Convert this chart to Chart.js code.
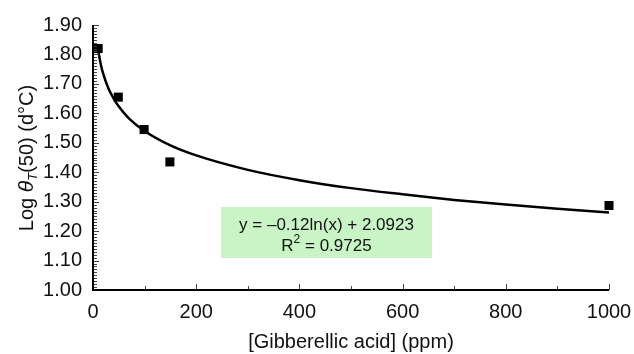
<!DOCTYPE html>
<html>
<head>
<meta charset="utf-8">
<script src="https://cdn.jsdelivr.net/npm/chart.js@4/dist/chart.umd.min.js"></script>
<style>
  html, body { margin: 0; padding: 0; background: #fff; }
  #wrap { width: 634px; height: 354px; }
</style>
</head>
<body>
<div id="wrap"><canvas id="chart" width="634" height="354"></canvas></div>
<script>
// measured points
const pointX = [10, 49, 99, 149, 1000];
const pointY = [1.82, 1.655, 1.545, 1.435, 1.287];

// fitted curve
const curveX = [10, 15, 20, 30, 40, 50, 70, 100, 150, 200, 300, 400, 500, 600, 700, 800, 900, 1000];
const curveY = [1.815, 1.767, 1.733, 1.684, 1.650, 1.623, 1.582, 1.540, 1.491, 1.457, 1.408, 1.373, 1.346, 1.325, 1.306, 1.290, 1.276, 1.263];

const xTicks = [0, 200, 400, 600, 800, 1000];
const yTicks = [1.00, 1.10, 1.20, 1.30, 1.40, 1.50, 1.60, 1.70, 1.80, 1.90];

const fitLines = ["y = \u20130.12ln(x) + 2.0923", "R", "2", " = 0.9725"];

const FONT = "'Liberation Sans', Arial, Helvetica, sans-serif";

const pts = pointX.map((x, i) => ({x: x, y: pointY[i]}));
const curve = curveX.map((x, i) => ({x: x, y: curveY[i]}));

// axes with inward ticks, titles and the green equation box
const decorations = {
    id: "decorations",
    beforeDatasetsDraw(chart) {
        const ctx = chart.ctx;
        // equation box
        const bx0 = 221, bx1 = 432, by0 = 207, by1 = 258;
        ctx.save();
        ctx.fillStyle = "#c9f5c6";
        ctx.fillRect(bx0, by0, bx1 - bx0, by1 - by0);
        ctx.fillStyle = "#111";
        ctx.font = "17px " + FONT;
        ctx.textAlign = "center";
        ctx.textBaseline = "alphabetic";
        const cx = (bx0 + bx1) / 2;
        ctx.fillText(fitLines[0], cx, 230);
        // R^2 line
        ctx.textAlign = "left";
        const wR = ctx.measureText(fitLines[1]).width;
        const wRest = ctx.measureText(fitLines[3]).width;
        ctx.font = "12px " + FONT;
        const w2 = ctx.measureText(fitLines[2]).width;
        let sx = cx - (wR + w2 + wRest) / 2;
        ctx.font = "17px " + FONT;
        ctx.fillText(fitLines[1], sx, 251);
        ctx.font = "12px " + FONT;
        ctx.fillText(fitLines[2], sx + wR, 243);
        ctx.font = "17px " + FONT;
        ctx.fillText(fitLines[3], sx + wR + w2, 251);
        ctx.restore();
    },
    afterDraw(chart) {
        const ctx = chart.ctx;
        const xs = chart.scales.x, ys = chart.scales.y;
        const left = xs.getPixelForValue(0);
        const bottom = ys.getPixelForValue(1.0);
        const top = ys.getPixelForValue(1.9);
        const right = xs.getPixelForValue(1000);
        ctx.save();
        // y minor/major ticks
        ctx.strokeStyle = "#444";
        ctx.lineWidth = 1;
        for (let i = 0; i <= 90; i++) {
            const y = Math.round(ys.getPixelForValue(1 + i / 100)) + 0.5;
            const len = i % 10 === 0 ? 6 : 4;
            ctx.beginPath();
            ctx.moveTo(left, y);
            ctx.lineTo(left + len, y);
            ctx.stroke();
        }
        // x ticks
        for (let v = 100; v <= 1000; v += 100) {
            const x = Math.round(xs.getPixelForValue(v)) + 0.5;
            const len = v % 200 === 0 ? 6 : 4;
            ctx.beginPath();
            ctx.moveTo(x, bottom);
            ctx.lineTo(x, bottom - len);
            ctx.stroke();
        }
        // axis lines
        ctx.strokeStyle = "#000";
        ctx.lineWidth = 2;
        ctx.beginPath();
        ctx.moveTo(left, top);
        ctx.lineTo(left, bottom);
        ctx.lineTo(right, bottom);
        ctx.stroke();

        // x title
        ctx.fillStyle = "#111";
        ctx.font = "20px " + FONT;
        ctx.textAlign = "center";
        ctx.textBaseline = "alphabetic";
        ctx.fillText("[Gibberellic acid] (ppm)", (left + right) / 2, 348);

        // y title with italic theta and subscript T
        const parts = [
            {t: "Log ", f: "20px " + FONT, dy: 0},
            {t: "\u03b8", f: "italic 21px " + FONT, dy: 0},
            {t: "T", f: "italic 13px " + FONT, dy: 4},
            {t: "(50) (d\u00b0C)", f: "20px " + FONT, dy: 0}
        ];
        let total = 0;
        parts.forEach(p => { ctx.font = p.f; p.w = ctx.measureText(p.t).width; total += p.w; });
        ctx.translate(33, 158);
        ctx.rotate(-Math.PI / 2);
        ctx.textAlign = "left";
        let px = -total / 2;
        parts.forEach(p => {
            ctx.font = p.f;
            ctx.fillText(p.t, px, p.dy);
            px += p.w;
        });
        ctx.restore();
    }
};

new Chart(document.getElementById("chart"), {
    type: "scatter",
    data: {
        datasets: [
            {
                data: curve,
                showLine: true,
                borderColor: "#000",
                borderWidth: 2.5,
                pointRadius: 0,
                cubicInterpolationMode: "monotone",
                fill: false
            },
            {
                data: pts,
                pointStyle: "rect",
                pointRadius: 6.4,
                backgroundColor: "#000",
                borderColor: "#000",
                borderWidth: 0,
                clip: false
            }
        ]
    },
    options: {
        responsive: false,
        animation: false,
        devicePixelRatio: 1,
        layout: { padding: { top: 25, right: 25, left: 0, bottom: 0 } },
        plugins: { legend: { display: false }, tooltip: { enabled: false } },
        scales: {
            x: {
                type: "linear",
                min: 0, max: 1000,
                afterBuildTicks: s => { s.ticks = xTicks.map(v => ({value: v})); },
                afterFit: s => { s.height = 64; },
                grid: { display: false },
                border: { display: false },
                ticks: { color: "#111", padding: 2, maxRotation: 0, font: { family: FONT, size: 20 },
                    callback: v => String(v) }
            },
            y: {
                type: "linear",
                min: 1.0, max: 1.9,
                afterBuildTicks: s => { s.ticks = yTicks.map(v => ({value: v})); },
                afterFit: s => { s.width = 93; },
                grid: { display: false },
                border: { display: false },
                ticks: { color: "#111", padding: 3, font: { family: FONT, size: 20 },
                    callback: v => v.toFixed(2) }
            }
        }
    },
    plugins: [decorations]
});
</script>
</body>
</html>
